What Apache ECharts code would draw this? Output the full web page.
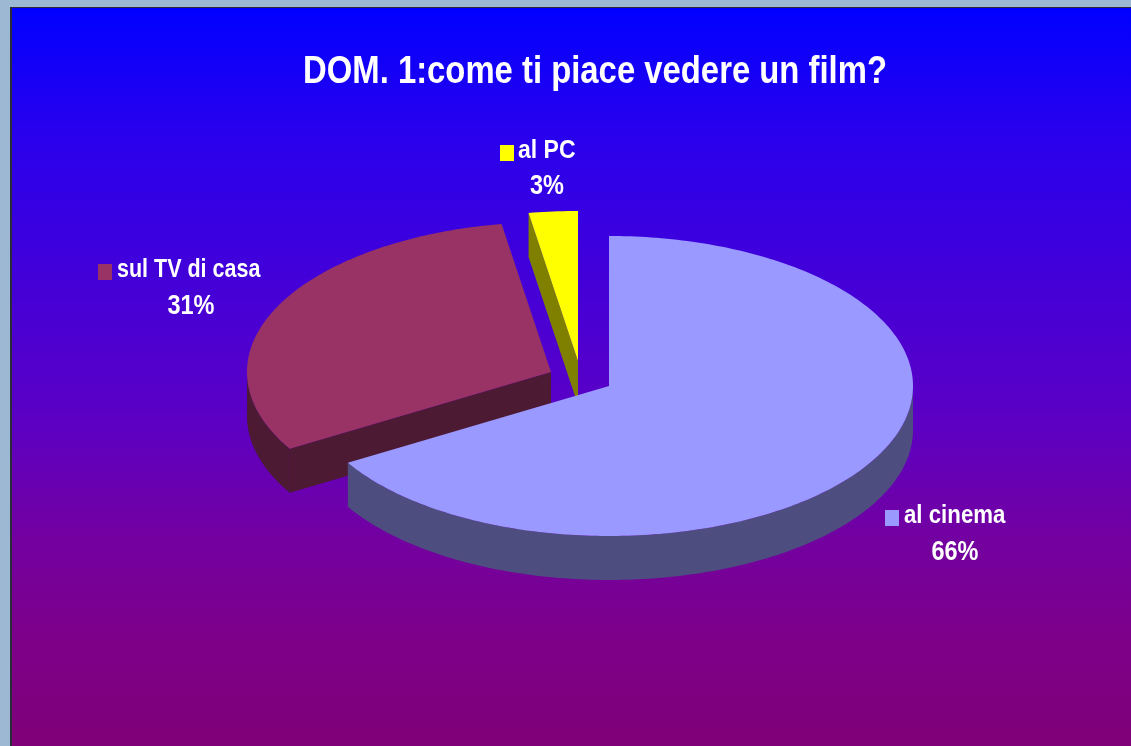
<!DOCTYPE html>
<html>
<head>
<meta charset="utf-8">
<title>DOM. 1</title>
<style>
  html, body { margin: 0; padding: 0; height: 100%; overflow: hidden; }
  #main { width: 1131px; height: 746px; }
</style>
<script src="https://cdn.jsdelivr.net/npm/echarts@6/dist/echarts.min.js"></script>
</head>
<body>
<div id="main"></div>
<script>
var titleText = 'DOM. 1:come ti piace vedere un film?';
var categories = ['al cinema', 'sul TV di casa', 'al PC'];
var shares = [66.45, 30.95, 2.6];
var percentLabels = ['66%', '31%', '3%'];

var topColors = ['#9999ff', '#993366', '#ffff00'];
var sideColors = ['#4d4d80', '#4d1a33', '#808000'];

// where each slice sits after being pulled out of the pie, and its label
var pie = { cx: 609, cy: 386, rx: 304, ry: 150, depth: 44 };
var explode = [[0, 0], [-58, -14], [-31, -25]];
var labelPos = [
  { box: [885, 510], text: [904, 516], pct: [955, 553], sx: 0.89 },
  { box: [98, 264], text: [117, 270], pct: [191, 307], sx: 0.86 },
  { box: [500, 145], text: [518, 151], pct: [547, 187], sx: 0.92 }
];

var total = shares.reduce(function (a, b) { return a + b; }, 0);

// data rows: [category index, start share, share], back slices first
var rows = [];
var acc = 0;
shares.forEach(function (v, i) {
  rows.push([i, acc, v]);
  acc += v;
});
rows.reverse();

function rad(deg) { return deg * Math.PI / 180; }

function onRim(c, deg) {
  return [c[0] + pie.rx * Math.sin(rad(deg)), c[1] - pie.ry * Math.cos(rad(deg))];
}

function down(p) { return [p[0], p[1] + pie.depth]; }

function arc(c, from, to) {
  var pts = [];
  var n = Math.max(2, Math.ceil(Math.abs(to - from)));
  for (var k = 0; k <= n; k++) {
    pts.push(onRim(c, from + (to - from) * k / n));
  }
  return pts;
}

function label(text, x, y, size, sx, align) {
  return {
    type: 'text',
    x: x, y: y,
    scaleX: sx,
    style: {
      text: text,
      fill: '#fff',
      font: 'bold ' + size + 'px "Liberation Sans", Arial, sans-serif',
      align: align,
      verticalAlign: 'middle'
    }
  };
}

function renderSlice(params, api) {
  var i = api.value(0);
  var from = api.value(1) / total * 360;
  var to = from + api.value(2) / total * 360;
  var c = [pie.cx + explode[i][0], pie.cy + explode[i][1]];
  var side = { fill: sideColors[i] };
  var children = [];

  // outer wall, only the front half of the rim shows
  var a = Math.max(from, 90);
  var b = Math.min(to, 270);
  if (a < b) {
    var rim = arc(c, a, b);
    children.push({
      type: 'polygon',
      shape: { points: rim.concat(rim.map(down).reverse()) },
      style: side
    });
  }
  // cut faces that turn toward the viewer
  [[from, from - 90], [to, to + 90]].forEach(function (cut) {
    if (Math.cos(rad(cut[1])) < -0.001) {
      var p = onRim(c, cut[0]);
      children.push({
        type: 'polygon',
        shape: { points: [c, p, down(p), down(c)] },
        style: side
      });
    }
  });
  children.push({
    type: 'polygon',
    shape: { points: [c].concat(arc(c, from, to)) },
    style: { fill: topColors[i] }
  });

  var pos = labelPos[i];
  children.push({
    type: 'rect',
    shape: { x: pos.box[0], y: pos.box[1], width: 14, height: 16 },
    style: { fill: topColors[i] }
  });
  children.push(label(categories[i], pos.text[0], pos.text[1], 25, pos.sx, 'left'));
  children.push(label(percentLabels[i], pos.pct[0], pos.pct[1], 27, 0.87, 'center'));

  return { type: 'group', children: children };
}

var myChart = echarts.init(document.getElementById('main'));
var option = {
  backgroundColor: '#9db8d2',
  animation: false,
  graphic: [
    {
      type: 'rect', z: -2, silent: true,
      shape: { x: 10, y: 7, width: 1121, height: 739 },
      style: { fill: '#2a2a3a' }
    },
    {
      type: 'rect', z: -1, silent: true,
      shape: { x: 12, y: 8, width: 1119, height: 738 },
      style: {
        fill: new echarts.graphic.LinearGradient(0, 0, 0, 1, [
          { offset: 0, color: '#0000ff' },
          { offset: 0.165, color: '#2800ee' },
          { offset: 0.558, color: '#5c00c4' },
          { offset: 0.72, color: '#7300a0' },
          { offset: 0.86, color: '#7d0088' },
          { offset: 1, color: '#800078' }
        ])
      }
    },
    {
      type: 'text', z: 5, silent: true,
      x: 595, y: 72,
      scaleX: 0.853,
      style: {
        text: titleText,
        fill: '#fff',
        font: 'bold 38.5px "Liberation Sans", Arial, sans-serif',
        align: 'center',
        verticalAlign: 'middle'
      }
    }
  ],
  series: [
    {
      type: 'custom',
      coordinateSystem: 'none',
      renderItem: renderSlice,
      encode: { itemName: 0, value: 2 },
      data: rows
    }
  ]
};
myChart.setOption(option);
</script>
</body>
</html>
